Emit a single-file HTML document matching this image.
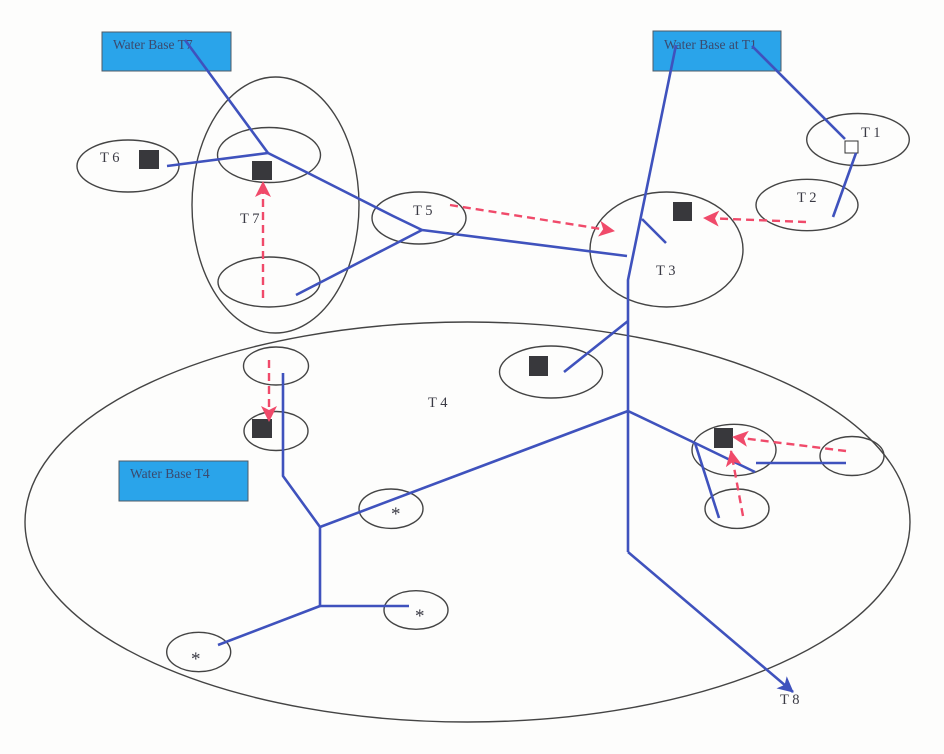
<!DOCTYPE html>
<html>
<head>
<meta charset="utf-8">
<style>
  html, body { margin: 0; padding: 0; background: #fdfdfc; }
  svg { display: block; }
  text { font-family: "Liberation Serif", serif; fill: #3a3a44; }
</style>
</head>
<body>
<svg width="944" height="754" viewBox="0 0 944 754" xmlns="http://www.w3.org/2000/svg">
  <defs>
    <marker id="ra" markerWidth="16" markerHeight="16" refX="15" refY="8" orient="auto" markerUnits="userSpaceOnUse" viewBox="0 0 16 16">
      <path d="M0,0 L16,8 L0,16 L4,8 z" fill="#f04a6a"/>
    </marker>
    <marker id="ba" markerWidth="16" markerHeight="16" refX="15" refY="8" orient="auto" markerUnits="userSpaceOnUse" viewBox="0 0 16 16">
      <path d="M0,0 L16,8 L0,16 L4,8 z" fill="#3f52bd"/>
    </marker>
  </defs>

  <rect x="0" y="0" width="944" height="754" fill="#fdfdfc"/>

  <!-- Ellipses -->
  <g fill="none" stroke="#444" stroke-width="1.4">
    <ellipse cx="467.5" cy="522" rx="442.5" ry="200"/>
    <ellipse cx="275.5" cy="205" rx="83.5" ry="128"/>
    <ellipse cx="269" cy="155" rx="51.5" ry="27.5"/>
    <ellipse cx="269" cy="282" rx="51" ry="25"/>
    <ellipse cx="128" cy="166" rx="51" ry="26"/>
    <ellipse cx="419" cy="218" rx="47" ry="26"/>
    <ellipse cx="666.5" cy="249.5" rx="76.5" ry="57.5"/>
    <ellipse cx="858" cy="139.5" rx="51.3" ry="26"/>
    <ellipse cx="807" cy="205" rx="51" ry="25.7"/>
    <ellipse cx="551" cy="372" rx="51.5" ry="26"/>
    <ellipse cx="734" cy="450" rx="42" ry="25.7"/>
    <ellipse cx="852" cy="456" rx="32" ry="19.5"/>
    <ellipse cx="737" cy="508.7" rx="32" ry="19.7"/>
    <ellipse cx="276" cy="366" rx="32.5" ry="19"/>
    <ellipse cx="276" cy="431" rx="32" ry="19.5"/>
    <ellipse cx="391" cy="508.7" rx="32" ry="19.7"/>
    <ellipse cx="416" cy="610" rx="32" ry="19.3"/>
    <ellipse cx="198.7" cy="652" rx="32" ry="19.7"/>
  </g>

  <!-- Blue boxes -->
  <g stroke="#505a66" stroke-width="1" fill="#2aa4ea">
    <rect x="102" y="32" width="129" height="39"/>
    <rect x="653" y="31" width="128" height="40"/>
    <rect x="119" y="461" width="129" height="40"/>
  </g>
  <g font-size="13.5">
    <text x="113" y="49" style="fill:#3b4a6e">Water Base T7</text>
    <text x="664" y="49" style="fill:#3b4a6e">Water Base at T1</text>
    <text x="130" y="478" style="fill:#3b4a6e">Water Base T4</text>
  </g>

  <!-- Black squares -->
  <g fill="#38383c">
    <rect x="139" y="150" width="20" height="19"/>
    <rect x="252" y="161" width="20" height="19"/>
    <rect x="673" y="202" width="19" height="19"/>
    <rect x="529" y="356" width="19" height="20"/>
    <rect x="714" y="428" width="19" height="20"/>
    <rect x="252" y="419" width="20" height="19"/>
  </g>
  <rect x="845" y="141" width="13" height="12" fill="#fff" stroke="#333" stroke-width="1"/>

  <!-- Blue lines -->
  <g fill="none" stroke="#3f52bd" stroke-width="2.6" stroke-linejoin="round">
    <polyline points="185,40 268,153"/>
    <polyline points="167,166 268,153"/>
    <polyline points="268,153 312,175 393,216 422,230"/>
    <polyline points="296,295 422,230"/>
    <polyline points="422,230 627,256"/>
    <polyline points="676,45 628,280 628,552"/>
    <polyline points="642,219 666,243"/>
    <polyline points="752,46 845,139"/>
    <polyline points="856,153 833,217"/>
    <polyline points="628,321 564,372"/>
    <polyline points="628,411 320,527"/>
    <polyline points="628,411 695,443 755,472"/>
    <polyline points="695,443 719,518"/>
    <polyline points="756,463 846,463"/>
    <polyline points="283,373 283,476 320,527 320,606 409,606"/>
    <polyline points="320,606 218,645"/>
    <line x1="628" y1="552" x2="793" y2="692" marker-end="url(#ba)"/>
  </g>

  <!-- Red dashed arrows -->
  <g fill="none" stroke="#f04a6a" stroke-width="2.4" stroke-dasharray="8,5">
    <line x1="263" y1="298" x2="263" y2="182" marker-end="url(#ra)"/>
    <line x1="450" y1="205" x2="614" y2="231" marker-end="url(#ra)"/>
    <line x1="806" y1="222" x2="704" y2="218" marker-end="url(#ra)"/>
    <line x1="846" y1="451" x2="733" y2="437" marker-end="url(#ra)"/>
    <line x1="743" y1="516" x2="731" y2="451" marker-end="url(#ra)"/>
    <line x1="269" y1="360" x2="269" y2="421" marker-end="url(#ra)"/>
  </g>

  <!-- Labels -->
  <g font-size="14.5">
    <text x="100" y="162">T 6</text>
    <text x="240" y="223">T 7</text>
    <text x="413" y="215">T 5</text>
    <text x="656" y="275">T 3</text>
    <text x="861" y="137">T 1</text>
    <text x="797" y="202">T 2</text>
    <text x="428" y="407">T 4</text>
    <text x="780" y="704">T 8</text>
  </g>
  <g font-size="19">
    <text x="391" y="520">*</text>
    <text x="415" y="622">*</text>
    <text x="191" y="665">*</text>
  </g>
</svg>
</body>
</html>
